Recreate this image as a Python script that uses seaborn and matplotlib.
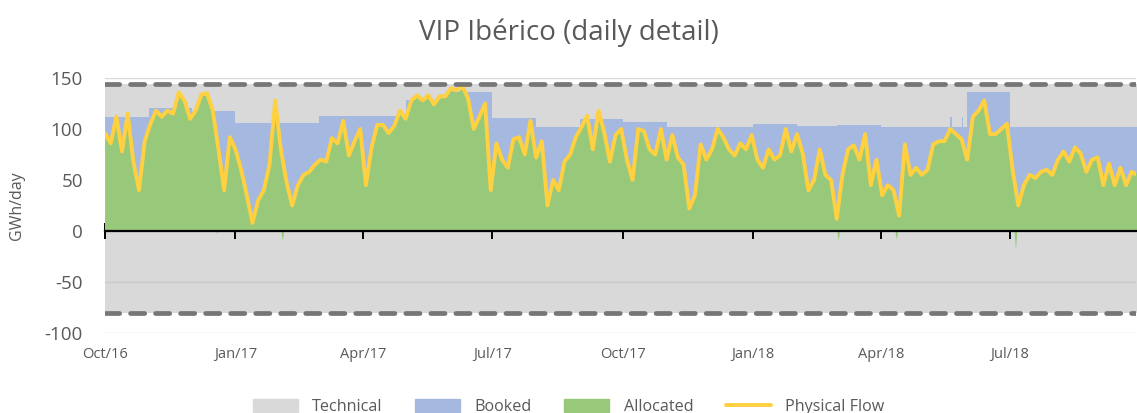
import numpy as np
import pandas as pd
import matplotlib
matplotlib.use("Agg")
import matplotlib.pyplot as plt
import matplotlib.dates as mdates
from matplotlib.patches import Patch
from matplotlib.lines import Line2D
import seaborn as sns

# ---------------- data ----------------
series_start = "2016-10-01"
sample_step = "4D"

physical_flow = [
    96, 86, 112, 78, 115, 68, 40, 88, 105, 118, 112, 118, 115, 136, 128, 110, 118, 134, 135, 118, 80, 40, 92,
    80, 60, 35, 8, 30, 40, 65, 128, 80, 48, 25, 45, 55, 58, 65, 70, 68, 91, 86, 108, 74, 88,
    100, 45, 82, 104, 104, 96, 103, 118, 110, 128, 133, 128, 133, 124, 132, 132, 140, 138, 142, 130, 100, 112, 125,
    40, 86, 70, 62, 90, 92, 75, 108, 72, 88, 25, 50, 40, 68, 75, 92, 102, 113, 80, 118, 97, 68, 94,
    100, 70, 50, 100, 98, 80, 75, 100, 70, 94, 72, 65, 22, 35, 85, 70, 80, 100, 92, 80, 74, 86, 80,
    94, 70, 62, 80, 70, 74, 100, 78, 95, 76, 40, 50, 80, 55, 50, 12, 55, 80, 84, 70, 95, 45, 70,
    35, 45, 40, 15, 85, 55, 62, 55, 60, 85, 88, 88, 100, 95, 90, 70, 112, 118, 128, 95, 95, 100,
    105, 60, 25, 45, 55, 52, 58, 60, 55, 70, 78, 68, 82, 76, 58, 70, 72, 45, 66, 45, 62, 45, 58, 55,
]

allocated = [
    92, 84, 116, 80, 112, 70, 44, 86, 102, 120, 114, 116, 118, 134, 130, 112, 120, 132, 136, 120, 82, 38, 90,
    82, 62, 38, 12, 32, 42, 66, 122, 78, 50, 28, 46, 56, 60, 66, 72, 70, 94, 88, 104, 76, 90,
    98, 50, 84, 102, 106, 98, 104, 116, 112, 126, 132, 130, 134, 126, 134, 134, 138, 136, 140, 132, 104, 116, 128,
    44, 88, 72, 64, 92, 90, 78, 106, 74, 90, 28, 52, 44, 70, 76, 94, 104, 112, 84, 116, 98, 70, 96,
    98, 72, 52, 98, 96, 82, 78, 98, 72, 92, 74, 66, 26, 38, 84, 72, 82, 98, 94, 82, 76, 88, 82,
    96, 72, 64, 82, 72, 76, 98, 80, 94, 78, 44, 52, 78, 56, 52, 16, 56, 82, 86, 72, 94, 48, 72,
    38, 46, 42, 18, 84, 58, 64, 56, 62, 86, 90, 90, 102, 96, 92, 72, 114, 120, 130, 98, 96, 102,
    106, 62, 28, 46, 56, 54, 60, 62, 56, 72, 80, 70, 84, 78, 60, 72, 74, 48, 68, 48, 64, 48, 60, 56,
]

# single days with negative (exit-direction) allocation
neg_alloc_dates = ["2016-12-19", "2017-02-03", "2018-03-02", "2018-04-12", "2018-07-05"]
neg_alloc_values = [-2, -9, -9, -8, -18]

booked_dates = ["2016-10-01", "2016-11-01", "2016-12-01", "2017-01-01", "2017-03-01", "2017-05-01",
                "2017-06-01", "2017-07-01", "2017-08-01", "2017-09-01", "2017-10-01", "2017-11-01",
                "2018-01-01", "2018-02-01", "2018-03-01", "2018-04-01", "2018-05-20", "2018-05-21",
                "2018-05-28", "2018-05-29", "2018-06-01", "2018-07-01", "2018-09-30"]
booked_values = [112, 121, 118, 106, 113, 128, 136, 111, 102, 110, 107, 102,
                 105, 103, 104, 102, 112, 102, 112, 102, 136, 102, 102]

technical_dates = ["2016-10-01", "2018-09-30"]
technical_entry = [144, 144]
technical_exit = [-80, -80]

tick_dates = ["2016-10-01", "2017-01-01", "2017-04-01", "2017-07-01", "2017-10-01",
              "2018-01-01", "2018-04-01", "2018-07-01"]
tick_labels = ["Oct/16", "Jan/17", "Apr/17", "Jul/17", "Oct/17", "Jan/18", "Apr/18", "Jul/18"]
y_ticks = [-100, -50, 0, 50, 100, 150]

# ---------------- frames ----------------
flow_df = pd.DataFrame({
    "date": pd.date_range(series_start, periods=len(physical_flow), freq=sample_step),
    "flow": physical_flow,
})
alloc_df = pd.DataFrame({
    "date": pd.date_range(series_start, periods=len(allocated), freq=sample_step),
    "alloc": allocated,
})
neg_df = pd.DataFrame({"date": pd.to_datetime(neg_alloc_dates), "alloc": neg_alloc_values})
booked_df = pd.DataFrame({"date": pd.to_datetime(booked_dates), "booked": booked_values})
tech_df = pd.DataFrame({"date": pd.to_datetime(technical_dates),
                        "entry": technical_entry, "exit": technical_exit})

# ---------------- style ----------------
sns.set_theme(style="white")
plt.rcParams["font.family"] = ["Open Sans", "DejaVu Sans"]
plt.rcParams["axes.unicode_minus"] = False
TXT = "#595959"
C_TECH = "#d9d9d9"
C_BOOK = "#a5b8df"
C_ALLOC = "#98c97a"
C_FLOW = "#ffd03f"
C_DASH = "#767676"

fig = plt.figure(figsize=(11.37, 4.13), dpi=100)
ax = fig.add_axes([105 / 1137, 1 - 333 / 413, (1137 - 106) / 1137, (333 - 78) / 413])

# technical capacity band
ax.fill_between(tech_df["date"], tech_df["exit"], tech_df["entry"], color=C_TECH, lw=0, zorder=0.2)
for col in ["entry", "exit"]:
    ax.plot(tech_df["date"], tech_df[col], color=C_DASH, lw=3.4, dashes=(3.0, 2.3),
            solid_capstyle="round", dash_capstyle="round", zorder=3)

# gridlines
for yv in y_ticks:
    ax.axhline(yv, color="#c9c9c9" if -80 < yv < 144 else "#d9d9d9", lw=1.0, zorder=0.5)

# booked (step)
ax.fill_between(booked_df["date"], 0, booked_df["booked"], step="post", color=C_BOOK, lw=0, zorder=1)
# allocated
ax.fill_between(alloc_df["date"], 0, alloc_df["alloc"], color=C_ALLOC, lw=0, zorder=1.2)
one_day = pd.Timedelta(days=1)
for d, v in zip(neg_df["date"], neg_df["alloc"]):
    ax.fill_between([d - one_day, d, d + one_day], 0, [0, v, 0], color=C_ALLOC, lw=0, zorder=1.2)
# physical flow
sns.lineplot(data=flow_df, x="date", y="flow", ax=ax, color=C_FLOW, lw=2.8, zorder=2)

t0 = pd.Timestamp(series_start)
ax.set_xlim(t0, t0 + pd.Timedelta(days=727))
ax.set_ylim(-100, 150)
ax.set_yticks(y_ticks)
ax.set_xlabel("")
ax.set_ylabel("GWh/day", color=TXT, fontsize=11.5, labelpad=14)

for s in ["top", "right", "left"]:
    ax.spines[s].set_visible(False)
ax.spines["bottom"].set_position(("data", 0))
ax.spines["bottom"].set_color("black")
ax.spines["bottom"].set_linewidth(1.6)
ax.spines["bottom"].set_zorder(4)
ax.set_xticks(pd.to_datetime(tick_dates))
ax.tick_params(axis="x", direction="inout", length=11, width=1.4, color="black", labelbottom=False,
               bottom=True)
ax.tick_params(axis="y", length=0, labelsize=13.5, labelcolor=TXT, pad=16)

sec = ax.secondary_xaxis("bottom")
sec.set_xticks(mdates.date2num(pd.to_datetime(tick_dates)))
sec.set_xticklabels(tick_labels)
sec.tick_params(length=0, labelsize=10.5, labelcolor=TXT, pad=10)
sec.spines["bottom"].set_visible(False)

fig.suptitle("VIP Ibérico (daily detail)", x=0.5, y=0.955, fontsize=20, color=TXT)

handles = [Patch(color=C_TECH), Patch(color=C_BOOK), Patch(color=C_ALLOC),
           Line2D([0], [0], color=C_FLOW, lw=2.8)]
fig.legend(handles, ["Technical", "Booked", "Allocated", "Physical Flow"], loc="lower center",
           bbox_to_anchor=(0.5, -0.04), ncol=4, frameon=False, fontsize=11.6, labelcolor=TXT,
           handlelength=2.8, handleheight=0.8, columnspacing=2.0, handletextpad=0.9)

fig.savefig("out.png", dpi=100)
